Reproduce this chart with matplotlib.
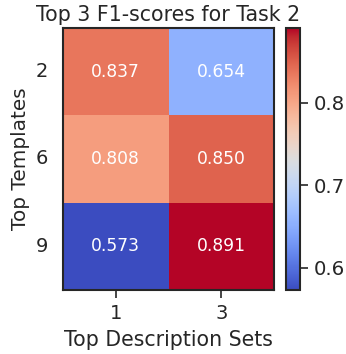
import numpy as np
import matplotlib
matplotlib.use("Agg")
import matplotlib.pyplot as plt
import seaborn as sns

row_labels = ["2", "6", "9"]
col_labels = ["1", "3"]
scores = [
    [0.837, 0.654],
    [0.808, 0.850],
    [0.573, 0.891],
]

sns.set_theme(style="ticks", font_scale=1.0)
plt.rcParams["font.family"] = ["DejaVu Sans"]

fig = plt.figure(figsize=(3.46, 3.54), dpi=100)
ax = fig.add_axes([63 / 346, 1 - 290 / 354, 211 / 346, 262 / 354])
cax = fig.add_axes([286 / 346, 1 - 290 / 354, 14 / 346, 262 / 354])

data = np.array(scores)
sns.heatmap(data, ax=ax, cbar_ax=cax, cmap="coolwarm", annot=True, fmt=".3f",
            annot_kws={"size": 12.3, "color": "white"},
            xticklabels=col_labels, yticklabels=row_labels)

for s in ax.spines.values():
    s.set_visible(True)
    s.set_linewidth(1.5)
    s.set_color("#262626")
cbar = ax.collections[0].colorbar
cbar.outline.set_visible(True)
cbar.outline.set_linewidth(1.5)
cbar.outline.set_edgecolor("#262626")
cbar.set_ticks([0.6, 0.7, 0.8])
cbar.ax.tick_params(labelsize=14.2, length=6, width=1.2, pad=4)

ax.set_title("Top 3 F1-scores for Task 2", fontsize=14.8, pad=5)
ax.set_xlabel("Top Description Sets", fontsize=14.8, labelpad=5)
ax.set_ylabel("Top Templates", fontsize=14.4, labelpad=4)
ax.tick_params(axis="x", labelsize=14, length=6, width=1.2, pad=4)
ax.tick_params(axis="y", labelsize=14, length=0, pad=11)
ax.set_yticklabels(row_labels, rotation=0)

fig.savefig("out.png", dpi=100)
